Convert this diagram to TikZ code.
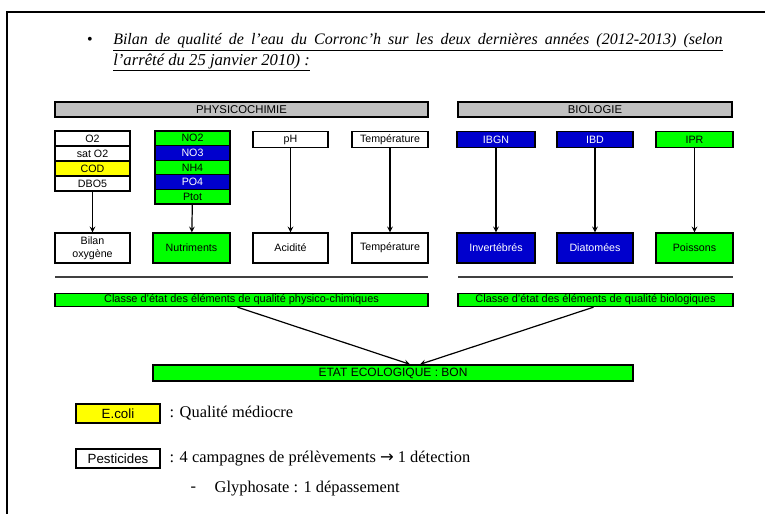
\documentclass[tikz,border=0pt]{standalone}
\usepackage{fontspec}
\setmainfont{Liberation Serif}
\setsansfont{Liberation Sans}
\newfontfamily\symbfont{DejaVu Sans}
\usepackage{tikz}
\usetikzlibrary{arrows}

\definecolor{vert}{RGB}{0,255,0}
\definecolor{bleu}{RGB}{0,0,205}
\definecolor{jaune}{RGB}{255,255,0}
\definecolor{gris}{RGB}{192,192,192}

\newdimen\upx
\upx=0.75pt

\tikzstyle{arrow} = [line width=0.9pt,->,>=stealth]
\tikzset{
  boite/.style={draw=black, line width=1pt, inner sep=0pt, align=center,
    font=\sffamily\fontsize{8}{9.5}\selectfont},
  ligne/.style={boite, minimum width=75\upx, minimum height=15\upx},
  haut/.style={boite, minimum width=76\upx, minimum height=16\upx},
  bas/.style={boite, minimum width=76\upx, minimum height=30\upx},
  bandeau/.style={boite, fill=gris, line width=1.3pt, minimum height=15\upx,
    font=\sffamily\fontsize{8.5}{9.5}\selectfont},
  classe/.style={boite, fill=vert, minimum height=13\upx,
    font=\sffamily\fontsize{8.2}{9}\selectfont},
  sep/.style={line width=1.2pt, black!75},
  legende/.style={anchor=west, font=\fontsize{12.3}{14}\selectfont}
}

\begin{document}
\begin{tikzpicture}[x=0.75pt,y=-0.75pt]
\useasboundingbox (0,0) rectangle (765,514);
\draw[line width=1.2pt] (7,514) -- (7,12) -- (765,12);

% titre
\node[anchor=base] (puce) at (90,45) {\fontsize{12}{14}\selectfont\textbullet};
\node[anchor=base west, inner sep=0pt, font=\fontsize{12}{14}\selectfont\itshape] (titre) at (113,45)
  {\underline{\makebox[457pt][s]{Bilan de qualité de l'eau du Corronc'h sur les deux dernières années (2012-2013) (selon}}};
\node[anchor=base west, inner sep=0pt, font=\fontsize{12.5}{14}\selectfont\itshape] (titreb) at (113,65)
  {\underline{l'arrêté du 25 janvier 2010) :}};

% bandeaux
\node[bandeau, minimum width=373\upx] (physico) at (241.5,109.5) {PHYSICOCHIMIE};
\node[bandeau, minimum width=274\upx] (bio) at (595,109.5) {BIOLOGIE};

% bilan oxygene
\node[ligne] (o2) at (92.5,138.5) {O2};
\node[ligne] (sato2) at (92.5,153.5) {sat O2};
\node[ligne, fill=jaune] (cod) at (92.5,168.5) {COD};
\node[ligne] (dbo5) at (92.5,183.5) {DBO5};

% nutriments
\node[ligne, fill=vert, minimum height=14.6\upx] (no2) at (192.5,138.3) {NO2};
\node[ligne, fill=bleu, text=white, minimum height=14.6\upx] (no3) at (192.5,152.9) {NO3};
\node[ligne, fill=vert, minimum height=14.6\upx] (nh4) at (192.5,167.5) {NH4};
\node[ligne, fill=bleu, text=white, minimum height=14.6\upx] (po4) at (192.5,182.1) {PO4};
\node[ligne, fill=vert, minimum height=14.6\upx] (ptot) at (192.5,196.7) {Ptot};

\node[haut, minimum width=75\upx] (ph) at (290.5,139.5) {pH};
\node[haut] (temp) at (390,139.5) {Température};

\node[haut, minimum width=78\upx, fill=bleu, text=white] (ibgn) at (496,139.5) {IBGN};
\node[haut, fill=bleu, text=white] (ibd) at (595,139.5) {IBD};
\node[haut, minimum width=77\upx, fill=vert] (ipr) at (694.5,139.5) {IPR};

% elements de qualite
\node[bas, minimum width=75\upx] (bilan) at (92.5,248) {Bilan\\oxygène};
\node[bas, minimum width=77\upx, fill=vert] (nutri) at (191.5,248) {Nutriments};
\node[bas, minimum width=75\upx] (acid) at (290.5,248) {Acidité};
\node[bas] (tempb) at (390,248) {Température};
\node[bas, minimum width=78\upx, fill=bleu, text=white] (invert) at (496,248) {Invertébrés};
\node[bas, fill=bleu, text=white] (diato) at (595,248) {Diatomées};
\node[bas, minimum width=77\upx, fill=vert] (poiss) at (694.5,248) {Poissons};

\draw[arrow] (dbo5) -- (bilan);
\draw[arrow] (ptot) -- (nutri);
\draw[arrow] (ph) -- (acid);
\draw[arrow] (temp) -- (tempb);
\draw[arrow] (ibgn) -- (invert);
\draw[arrow] (ibd) -- (diato);
\draw[arrow] (ipr) -- (poiss);

\draw[sep] (55,277) -- (428,277);
\draw[sep] (458,277) -- (733,277);

% classes d'etat
\node[classe, minimum width=373\upx] (classpc) at (241.5,300) {Classe d'état des éléments de qualité physico-chimiques};
\node[classe, minimum width=275\upx] (classbio) at (595.5,300) {Classe d'état des éléments de qualité biologiques};
\node[classe, minimum width=480\upx, minimum height=16\upx, font=\sffamily\fontsize{9}{10}\selectfont] (etat) at (393,373) {ETAT ECOLOGIQUE : BON};

\draw[arrow] ([xshift=-4\upx]classpc.south) -- ([xshift=17\upx]etat.north);
\draw[arrow] ([xshift=-2\upx]classbio.south) -- ([xshift=27\upx]etat.north);

% legende
\node[boite, fill=jaune, line width=1.5pt, minimum width=84\upx, minimum height=19\upx,
  font=\sffamily\fontsize{10}{11}\selectfont] (ecoli) at (118,413.5) {E.coli};
\node[legende] (qualite) at (165,413.5) {: Qualité médiocre};
\node[boite, line width=1.5pt, minimum width=84\upx, minimum height=19\upx,
  font=\sffamily\fontsize{10}{11}\selectfont] (pest) at (118,458.5) {Pesticides};
\node[legende] (campagnes) at (165,458.5) {: 4 campagnes de prélèvements {\symbfont →} 1 détection};
\node[legende] (tiret) at (186,489) {-};
\node[legende] (glypho) at (210,489) {Glyphosate : 1 dépassement};
\end{tikzpicture}
\end{document}
